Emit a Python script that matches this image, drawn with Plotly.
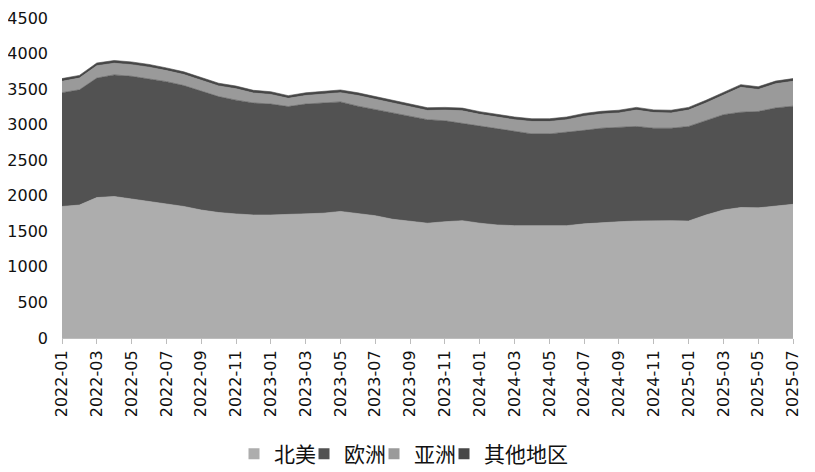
import plotly.graph_objects as go

months = [f"{y}-{m:02d}" for y in (2022, 2023, 2024, 2025) for m in range(1, 13)][:43]

north_america = [1850, 1870, 1975, 1990, 1955, 1920, 1885, 1850, 1800, 1765, 1745,
                 1730, 1730, 1735, 1745, 1755, 1780, 1750, 1720, 1670, 1640, 1615,
                 1635, 1650, 1615, 1590, 1580, 1580, 1575, 1580, 1605, 1625, 1635,
                 1645, 1650, 1650, 1645, 1730, 1800, 1835, 1830, 1860, 1880]
europe = [1600, 1620, 1680, 1710, 1725, 1720, 1720, 1700, 1670, 1630, 1600,
          1575, 1560, 1520, 1545, 1550, 1540, 1510, 1490, 1490, 1475, 1455,
          1420, 1370, 1360, 1350, 1325, 1290, 1295, 1310, 1315, 1325, 1330,
          1330, 1300, 1300, 1330, 1330, 1340, 1340, 1355, 1375, 1380]
asia = [160, 165, 174, 164, 164, 169, 155, 155, 155, 150, 160,
        140, 135, 115, 120, 125, 130, 150, 145, 145, 130, 130,
        150, 175, 170, 165, 165, 175, 175, 180, 200, 200, 200,
        230, 220, 215, 230, 245, 270, 350, 310, 340, 350]
other = [38] * 43

names = ["北美", "欧洲", "亚洲", "其他地区"]
colors = ["#adadad", "#525252", "#9a9a9a", "#474747"]
series = [north_america, europe, asia, other]

tick_vals = months[::2]
y_ticks = list(range(0, 4501, 500))

fig = go.Figure()
for name, vals, col in zip(names, series, colors):
    fig.add_trace(go.Scatter(x=months, y=vals, name=name, stackgroup="one",
                             mode="lines", line=dict(width=0.6, color=col),
                             fillcolor=col, showlegend=False, hoverinfo="skip"))
for name, col in zip(names, colors):
    fig.add_trace(go.Scatter(x=[None], y=[None], name=name, mode="markers",
                             marker=dict(symbol="square", size=11, color=col)))
# spacer entry so the last legend label is not clipped
fig.add_trace(go.Scatter(x=[None], y=[None], name=" ", mode="markers",
                         marker=dict(symbol="square", size=11, color="rgba(0,0,0,0)")))

fig.update_layout(
    width=807, height=464,
    margin=dict(l=54, r=22, t=10, b=134, autoexpand=False),
    paper_bgcolor="white", plot_bgcolor="white",
    font=dict(family="DejaVu Sans", size=16, color="#111111"),
    legend=dict(orientation="h", x=0.2353, xanchor="left", y=-0.3625, yanchor="middle",
                traceorder="normal", entrywidth=25, entrywidthmode="pixels",
                font=dict(family="Noto Sans CJK SC", size=21, color="#111111"),
                itemwidth=30, tracegroupgap=0, bgcolor="rgba(0,0,0,0)"),
    xaxis=dict(type="category", range=[0, 42], tickmode="array", tickvals=tick_vals,
               ticktext=tick_vals, tickangle=-90, ticks="outside", ticklen=5,
               tickcolor="#bdbdbd", showline=True, linecolor="#bdbdbd", linewidth=1,
               showgrid=False, zeroline=False, automargin=False,
               tickfont=dict(family="DejaVu Sans", size=16, color="#111111")),
    yaxis=dict(range=[0, 4500], tickmode="array", tickvals=y_ticks, showgrid=False,
               zeroline=False, showline=False, ticks="", automargin=False,
               ticklabelstandoff=13,
               tickfont=dict(family="DejaVu Sans", size=16, color="#111111")),
)

fig.write_html("out.html")
